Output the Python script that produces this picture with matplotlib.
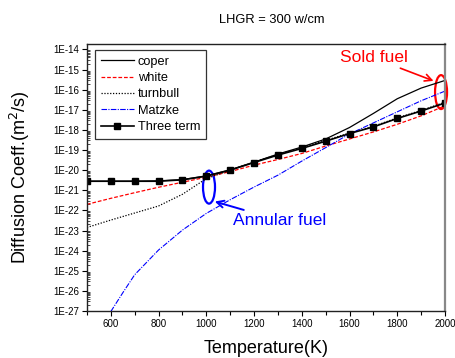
import numpy as np
import matplotlib
matplotlib.use("Agg")
import matplotlib.pyplot as plt
from matplotlib.patches import Ellipse
from matplotlib.ticker import FixedLocator, MultipleLocator, LogLocator, NullFormatter

plt.rcParams['font.family'] = ['Liberation Sans', 'DejaVu Sans']

# ---- data (log10 of diffusion coefficient, m^2/s) ----
temp = [500, 600, 700, 800, 900, 1000, 1100, 1200, 1300, 1400, 1500, 1600, 1700, 1800, 1900, 2000]
coper_log = [-20.55, -20.55, -20.55, -20.53, -20.47, -20.28, -19.98, -19.6, -19.2, -18.85,
             -18.45, -17.88, -17.18, -16.45, -15.92, -15.54]
white_log = [-21.7, -21.4, -21.12, -20.85, -20.6, -20.35, -20.07, -19.75, -19.47, -19.17,
             -18.8, -18.45, -18.1, -17.72, -17.3, -16.8]
turnbull_log = [-22.85, -22.48, -22.13, -21.78, -21.2, -20.42, -20.0, -19.6, -19.22, -18.88,
                -18.52, -18.15, -17.82, -17.4, -17.03, -16.62]
matzke_temp = [600, 650, 700, 800, 900, 1000, 1100, 1200, 1300, 1400, 1500, 1600, 1700, 1800, 1900, 2000]
matzke_log = [-27.03, -26.1, -25.2, -23.97, -22.98, -22.15, -21.47, -20.84, -20.25, -19.55,
              -18.88, -18.2, -17.65, -17.1, -16.55, -16.07]
three_log = [-20.55, -20.55, -20.55, -20.55, -20.48, -20.3, -20.0, -19.62, -19.25, -18.92,
             -18.56, -18.18, -17.85, -17.43, -17.06, -16.66]

ytick_exp = list(range(-27, -13))
ytick_labels = ["1E%d" % e for e in ytick_exp]
xtick_vals = [600, 800, 1000, 1200, 1400, 1600, 1800, 2000]

fig = plt.figure(figsize=(4.55, 3.58), dpi=100)
ax = fig.add_axes([0.191, 0.1313, 0.787, 0.7457])

t = np.array(temp)
ax.plot(t, 10.0 ** np.array(coper_log), color='black', lw=0.9, label='coper')
ax.plot(t, 10.0 ** np.array(white_log), color='red', lw=0.9, dashes=(3, 1.5), label='white')
ax.plot(t, 10.0 ** np.array(turnbull_log), color='black', lw=0.9, dashes=(1, 1.3), label='turnbull')
ax.plot(np.array(matzke_temp), 10.0 ** np.array(matzke_log), color='blue', lw=0.8,
        dashes=(5, 1.2, 1, 1.2), label='Matzke')
ax.plot(t, 10.0 ** np.array(three_log), color='black', lw=1.2, marker='s', ms=4.5,
        label='Three term')

ax.set_yscale('log')
ax.set_xlim(500, 2000)
ax.set_ylim(1e-27, 10 ** -13.73)
ax.yaxis.set_major_locator(FixedLocator([10.0 ** e for e in ytick_exp]))
ax.set_yticklabels(ytick_labels)
ax.yaxis.set_minor_locator(LogLocator(base=10, subs=np.arange(2, 10), numticks=30))
ax.yaxis.set_minor_formatter(NullFormatter())
ax.xaxis.set_major_locator(FixedLocator(xtick_vals))
ax.xaxis.set_minor_locator(MultipleLocator(100))

ax.tick_params(axis='both', which='major', labelsize=7, direction='out', length=3.5, width=0.8, pad=2)
ax.tick_params(axis='y', which='minor', direction='in', length=2, width=0.5)
ax.tick_params(axis='x', which='minor', direction='out', length=3, width=0.8)

for s in ['left', 'bottom', 'top']:
    ax.spines[s].set_color('#222222')
    ax.spines[s].set_linewidth(1.0)
ax.spines['right'].set_color('#888888')
ax.spines['right'].set_linewidth(1.6)

ax.set_xlabel('Temperature(K)', fontsize=13, va='center')
ax.set_ylabel('Diffusion Coeff.(m$^2$/s)', fontsize=13, va='center')
ax.xaxis.set_label_coords(0.5, -0.142)
ax.yaxis.set_label_coords(-0.187, 0.5)
fig.text(0.598, 0.944, 'LHGR = 300 w/cm', fontsize=9.3, ha='center', va='center')

leg = ax.legend(loc='upper left', bbox_to_anchor=(0.022, 0.978), fontsize=9.2, frameon=True,
                fancybox=False, edgecolor='black', handlelength=2.6, labelspacing=0.34,
                handletextpad=0.3, borderpad=0.45, borderaxespad=0)
leg.get_frame().set_linewidth(0.9)

# annotations
ax.add_patch(Ellipse((0.341, 0.464), 0.0335, 0.1236, transform=ax.transAxes,
                     fill=False, edgecolor='blue', lw=1.6, clip_on=False))
ax.annotate('Annular fuel', xy=(0.357, 0.41), xycoords='axes fraction',
            xytext=(0.407, 0.34), textcoords='axes fraction', color='blue', fontsize=12.5,
            ha='left', va='center',
            arrowprops=dict(arrowstyle='->', color='blue', lw=1.4, shrinkA=0, shrinkB=0))
ax.add_patch(Ellipse((0.989, 0.820), 0.0335, 0.127, transform=ax.transAxes,
                     fill=False, edgecolor='red', lw=1.6, clip_on=False))
ax.annotate('Sold fuel', xy=(0.968, 0.862), xycoords='axes fraction',
            xytext=(0.895, 0.948), textcoords='axes fraction', color='red', fontsize=12.5,
            ha='right', va='center',
            arrowprops=dict(arrowstyle='->', color='red', lw=1.2, shrinkA=0, shrinkB=0))

fig.savefig('out.png', dpi=100)
